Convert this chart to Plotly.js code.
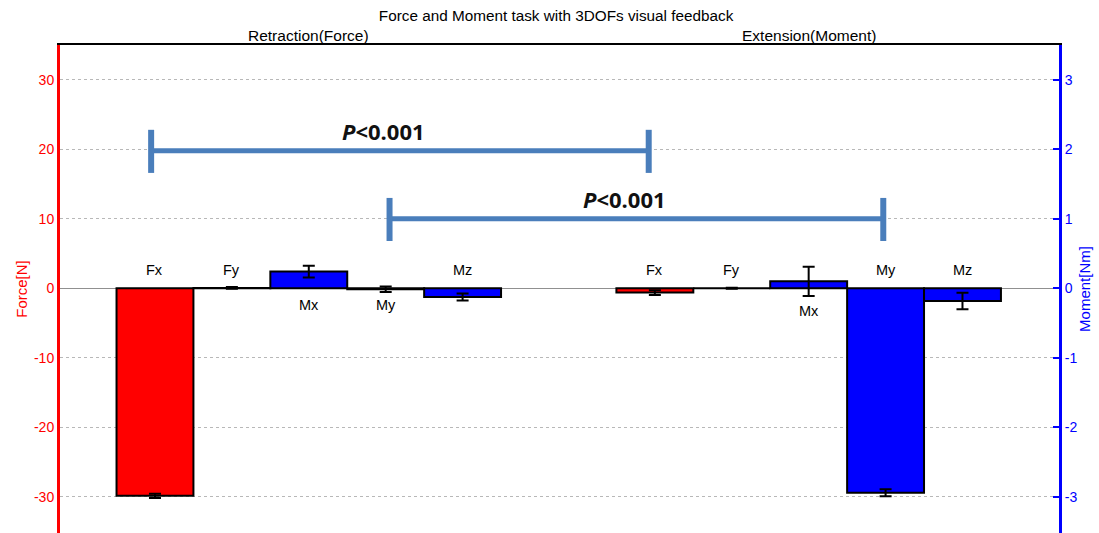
<!DOCTYPE html>
<html>
<head>
<meta charset="utf-8">
<script src="https://cdn.plot.ly/plotly-3.0.1.min.js"></script>
<style>html,body{margin:0;padding:0;background:#fff;}#chart{width:1099px;height:533px;}</style>
</head>
<body>
<div id="chart"></div>
<script>
// ---- data ----
const groups = ["Retraction(Force)", "Extension(Moment)"];
const forceCats = ["Fx", "Fy"];
const momentCats = ["Mx", "My", "Mz"];
// force values [N] per group (Fx, Fy)
const forceMean = [[-29.85, 0.05], [-0.62, 0.0]];
const forceErr  = [[0.3, 0.12], [0.33, 0.08]];
// moment values [Nm] per group (Mx, My, Mz)
const momentMean = [[0.24, -0.014, -0.125], [0.10, -2.94, -0.183]];
const momentErr  = [[0.085, 0.04, 0.05], [0.21, 0.05, 0.12]];
// label placement: +1 above zero line, -1 below
const labelSide = [[1, 1, -1, -1, 1], [1, 1, -1, 1, 1]];
// significance brackets: [group, catIndex] endpoints, level (N), text
const sigFrom = [[0, 0], [0, 3]];
const sigTo   = [[1, 0], [1, 3]];
const sigLevel = [19.8, 10.0];
const sigText = ["P<0.001", "P<0.001"];
const forceTicks = [-30, -20, -10, 0, 10, 20, 30];
const momentTicks = [-3, -2, -1, 0, 1, 2, 3];

// ---- layout helpers ----
const groupGap = 6.5;
const pos = (g, i) => g * groupGap + i;
const allCats = forceCats.concat(momentCats);
// hand-drawn bracket nudges (in category units)
const sigNudge = [[-0.05, -0.08], [0.05, -0.03]];
const sigTextNudge = [-0.22, -0.15];

const fx = [], fy = [], fe = [];
const mx = [], my = [], me = [];
groups.forEach((g, gi) => {
  forceCats.forEach((c, ci) => { fx.push(pos(gi, ci)); fy.push(forceMean[gi][ci]); fe.push(forceErr[gi][ci]); });
  momentCats.forEach((c, ci) => { mx.push(pos(gi, ci + 2)); my.push(momentMean[gi][ci]); me.push(momentErr[gi][ci]); });
});

const errStyle = {type: 'data', visible: true, color: '#000', thickness: 2, width: 6};
const traces = [
  {type: 'bar', x: fx, y: fy, width: 1, yaxis: 'y',
   marker: {color: '#ff0000', line: {color: '#000', width: 2}},
   error_y: Object.assign({array: fe}, errStyle), hoverinfo: 'x+y', showlegend: false},
  {type: 'bar', x: mx, y: my, width: 1, yaxis: 'y2',
   marker: {color: '#0000ff', line: {color: '#000', width: 2}},
   error_y: Object.assign({array: me}, errStyle), hoverinfo: 'x+y', showlegend: false}
];

const font = 'Liberation Sans, Arial';
const annotations = [];
groups.forEach((g, gi) => {
  annotations.push({text: g, x: pos(gi, 2), xref: 'x', y: 1, yref: 'paper',
    yanchor: 'bottom', yshift: -1, showarrow: false, font: {size: 15.5, color: '#000', family: font}});
  allCats.forEach((c, ci) => {
    const side = labelSide[gi][ci];
    const ext = (gi === 1 && ci === 2) ? -3.2 : (side > 0 ? 2.6 : -2.4);
    annotations.push({text: c, x: pos(gi, ci), xref: 'x', y: ext, yref: 'y', showarrow: false,
      font: {size: 14.5, color: '#000', family: font}});
  });
});

const shapes = [];
const blue = '#4a7ebb';
sigLevel.forEach((lvl, k) => {
  const x0 = pos(sigFrom[k][0], sigFrom[k][1]) + sigNudge[k][0];
  const x1 = pos(sigTo[k][0], sigTo[k][1]) + sigNudge[k][1];
  shapes.push({type: 'line', xref: 'x', yref: 'y', x0: x0, x1: x1, y0: lvl, y1: lvl, line: {color: blue, width: 5}});
  [x0, x1].forEach(xx => shapes.push({type: 'line', xref: 'x', yref: 'y', x0: xx, x1: xx, y0: lvl - 3.2, y1: lvl + 3.0, line: {color: blue, width: 6}}));
  annotations.push({text: '<b><i>P</i>&lt;' + sigText[k].slice(2) + '</b>', x: (x0 + x1) / 2 + sigTextNudge[k], xref: 'x',
    y: lvl + 2.9, yref: 'y', showarrow: false, font: {size: 22, color: '#111', family: 'Open Sans, Liberation Sans'}});
});

const layout = {
  width: 1099, height: 533,
  margin: {l: 60, r: 40, t: 45, b: 0},
  paper_bgcolor: '#fff', plot_bgcolor: '#fff',
  barmode: 'overlay',
  title: {text: 'Force and Moment task with 3DOFs visual feedback', x: 0.506, xanchor: 'center', y: 0.970, yanchor: 'middle',
    font: {size: 15.3, color: '#000', family: font}},
  xaxis: {range: [-1.235, 11.755], side: 'top', showline: true, linecolor: '#000', linewidth: 2,
    showticklabels: false, ticks: '', showgrid: false, zeroline: false, fixedrange: true},
  yaxis: {range: [-35.2, 35], tickvals: forceTicks, ticktext: forceTicks.map(String),
    tickfont: {size: 14, color: '#ff0000', family: font},
    showline: true, linecolor: '#ff0000', linewidth: 3, ticks: '',
    showgrid: true, gridcolor: '#b8b8b8', griddash: 'dot', gridwidth: 1,
    zeroline: true, zerolinecolor: '#909090', zerolinewidth: 1,
    title: {text: 'Force[N]', font: {size: 15, color: '#ff0000', family: font}, standoff: 3}},
  yaxis2: {range: [-3.52, 3.5], overlaying: 'y', side: 'right', tickvals: momentTicks, ticktext: momentTicks.map(String),
    tickfont: {size: 14, color: '#0000ff', family: font},
    showline: true, linecolor: '#0000ff', linewidth: 3, ticks: 'inside', ticklen: 6, tickwidth: 2, tickcolor: '#0000ff',
    showgrid: false, zeroline: false,
    title: {text: 'Moment[Nm]', font: {size: 15, color: '#0000ff', family: font}, standoff: 4}},
  annotations: annotations,
  shapes: shapes
};

Plotly.newPlot('chart', traces, layout, {displayModeBar: false, staticPlot: true});
</script>
</body>
</html>
